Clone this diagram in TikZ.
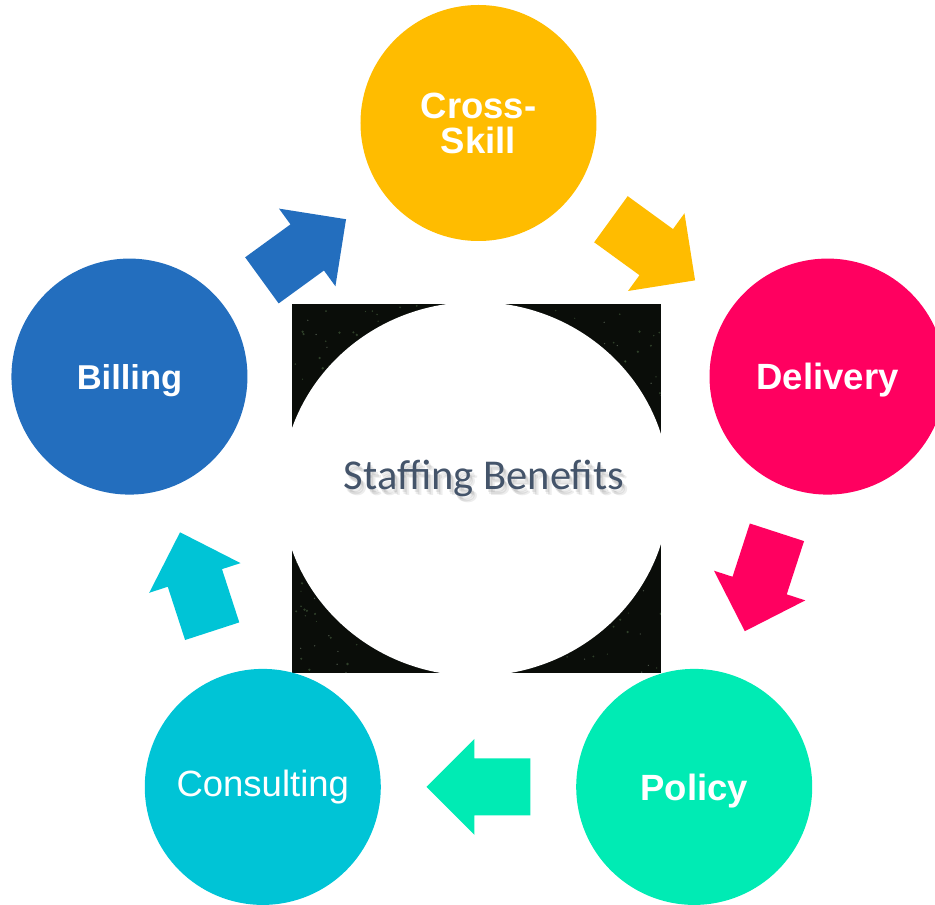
\documentclass[tikz,border=0pt]{standalone}
\usepackage{fontspec}
\usepackage{xcolor}
\usepackage{tikz}
\usetikzlibrary{calc,positioning}
\newfontfamily\lblfont{Liberation Sans}
\newfontfamily\ctrfont{Carlito}
\definecolor{skillyellow}{HTML}{FFBC00}
\definecolor{deliverypink}{HTML}{FF0060}
\definecolor{policygreen}{HTML}{00EBB4}
\definecolor{consultcyan}{HTML}{00C4D6}
\definecolor{billingblue}{HTML}{236EBE}
\definecolor{titlegray}{HTML}{44546A}
\definecolor{photodark}{HTML}{0A0D09}
\definecolor{leafgreen}{HTML}{4E6B45}
\definecolor{leaflight}{HTML}{8FA08A}

\begin{document}
\begin{tikzpicture}[x=1pt,y=1pt,
  ball/.style={circle,minimum size=236pt,inner sep=0pt,text=white,align=center,text depth=0pt,
    font=\lblfont\bfseries\fontsize{36.5}{35}\selectfont},
  blockarrow/.style={fill=#1,draw=none},
  titletext/.style={font=\ctrfont\fontsize{42.5}{50}\selectfont,anchor=base,inner sep=0pt}]
\useasboundingbox (-478.5,-415) rectangle (456.5,490);
%% photo square, white round hole in the middle
\begin{scope}
  \clip (-186.5,-183) rectangle (182.5,186);
  \fill[photodark] (-186.5,-183) rectangle (182.5,186);
  \pgfmathsetseed{11}
  \foreach \i in {1,...,320}
    \fill[leafgreen,opacity=.55] (-2+186*rand,1.5+186*rand) circle (0.6+0.8*rnd);
  \foreach \i in {1,...,120}
    \fill[leaflight,opacity=.5] (-2+186*rand,1.5+186*rand) circle (0.7);
  \fill[white] (-3,1) ellipse [x radius=194,y radius=187];
\end{scope}
%% the five steps
\node[ball,fill=skillyellow] (cross) at (90:367) {Cross-\\Skill};
\node[ball,fill=deliverypink] (delivery) at (18:367) {Delivery};
\node[ball,fill=policygreen] (policy) at (-54:367) {Policy};
\node[ball,fill=consultcyan,text depth=,font=\lblfont\fontsize{36.5}{35}\selectfont] (consulting) at (-126:367) {Consulting};
\node[ball,fill=billingblue,font=\lblfont\bfseries\fontsize{34.5}{35}\selectfont] (billing) at (162:367) {Billing};
%% block arrows half way between two steps
\foreach \from/\to/\ang/\col in {billing/cross/36/billingblue,cross/delivery/-36/skillyellow,
    delivery/policy/-108/deliverypink,policy/consulting/180/policygreen,consulting/billing/108/consultcyan}
  \path[blockarrow=\col,shift={($(\from)!.5!(\to)$)},rotate=\ang]
    (-52,-28.5) -- (4,-28.5) -- (4,-48) -- (52,0) -- (4,48) -- (4,28.5) -- (-52,28.5) -- cycle;
%% centre text with a soft shadow
\foreach \dx/\dy in {2/-3,3/-5,5/-6}
  \node[titletext,text=black,opacity=.07] at (5.5+\dx,\dy) {Staffing Benefits};
\node[titletext,text=titlegray] (title) at (5.5,0) {Staffing Benefits};
\end{tikzpicture}
\end{document}
